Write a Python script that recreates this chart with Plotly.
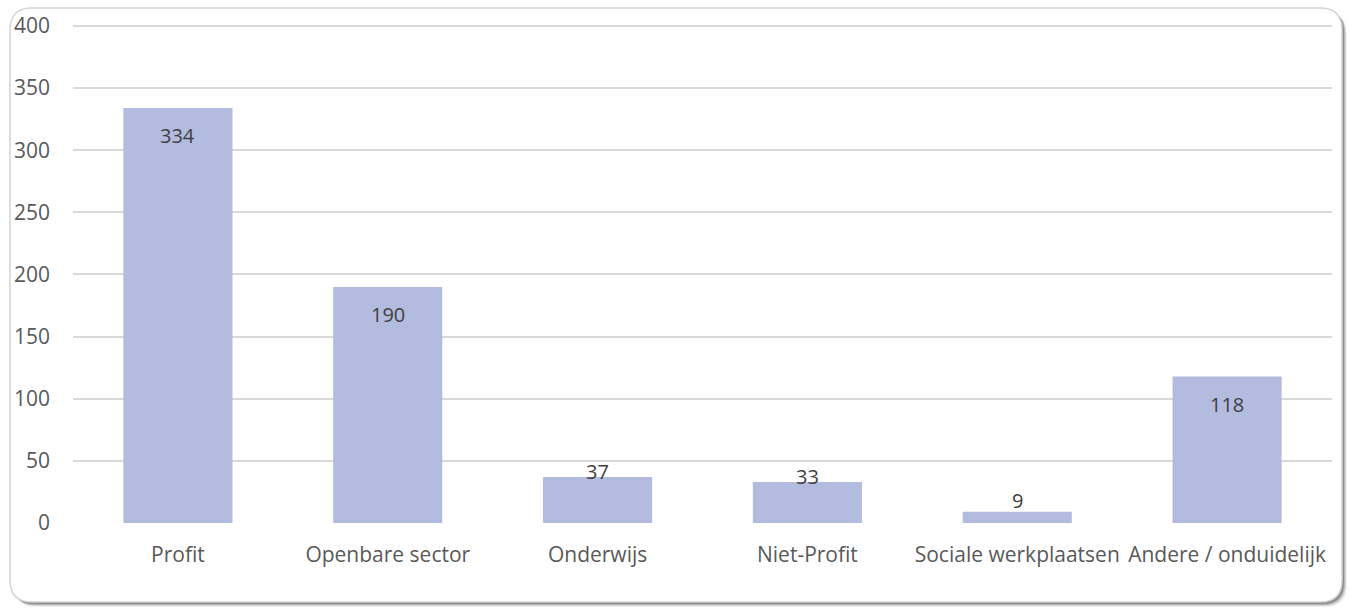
import plotly.graph_objects as go

categories = ["Profit", "Openbare sector", "Onderwijs", "Niet-Profit",
              "Sociale werkplaatsen", "Andere / onduidelijk"]
values = [334, 190, 37, 33, 9, 118]
y_ticks = [0, 50, 100, 150, 200, 250, 300, 350, 400]

W, H = 1351, 608
X_L, X_R, Y_400, Y_B = 73, 1332, 26, 523
Y_MAX = 404  # a little headroom so the 400 gridline is drawn
Y_T = Y_B - (Y_B - Y_400) * Y_MAX / y_ticks[-1]
ML, MR, MT, MB = X_L, W - X_R, Y_T, H - Y_B
PW, PH = X_R - X_L, Y_B - Y_T

def px(X):
    return (X - ML) / PW

def py(Y):
    return (Y_B - Y) / PH

def rrect(x0, y0, x1, y1, r):
    pts = [
        f"M {px(x0 + r)} {py(y0)}",
        f"L {px(x1 - r)} {py(y0)}",
        f"Q {px(x1)} {py(y0)} {px(x1)} {py(y0 + r)}",
        f"L {px(x1)} {py(y1 - r)}",
        f"Q {px(x1)} {py(y1)} {px(x1 - r)} {py(y1)}",
        f"L {px(x0 + r)} {py(y1)}",
        f"Q {px(x0)} {py(y1)} {px(x0)} {py(y1 - r)}",
        f"L {px(x0)} {py(y0 + r)}",
        f"Q {px(x0)} {py(y0)} {px(x0 + r)} {py(y0)}",
        "Z",
    ]
    return " ".join(pts)

fig = go.Figure()
fig.add_trace(go.Bar(
    x=categories, y=values,
    marker=dict(color="#b3bbdf", line=dict(width=0)),
    hoverinfo="skip",
))

shapes = []
for off, col in [(5, "rgba(0,0,0,0.06)"), (4, "rgba(0,0,0,0.10)"),
                 (3, "rgba(0,0,0,0.16)"), (2, "rgba(0,0,0,0.22)")]:
    shapes.append(dict(type="path", xref="paper", yref="paper",
                       path=rrect(10 + off, 8 + off, 1342 + off, 602 + off, 22),
                       fillcolor=col, line=dict(width=0), layer="below"))
shapes.append(dict(type="path", xref="paper", yref="paper",
                   path=rrect(10, 8, 1342, 602, 22),
                   fillcolor="white", line=dict(color="#d4d4d4", width=1.5), layer="below"))

annotations = []
for c, v in zip(categories, values):
    if v >= 100:
        shift = -28
    elif v >= 20:
        shift = 6
    else:
        shift = 11
    annotations.append(dict(x=c, y=v, xref="x", yref="y", text=str(v),
                            showarrow=False, yanchor="middle", yshift=shift,
                            font=dict(family="Open Sans", size=20, color="#404040")))

fig.update_layout(
    width=W, height=H,
    margin=dict(l=ML, r=MR, t=MT, b=MB, pad=0),
    paper_bgcolor="white", plot_bgcolor="rgba(0,0,0,0)",
    bargap=0.48,
    showlegend=False,
    shapes=shapes,
    annotations=annotations,
    font=dict(family="Open Sans", size=20, color="#595959"),
)
fig.update_xaxes(showgrid=False, showline=False, zeroline=False, ticks="",
                 ticklabelstandoff=17, tickfont=dict(size=21, color="#595959"))
fig.update_yaxes(range=[0, Y_MAX], tickvals=y_ticks, showgrid=True, gridcolor="#d9d9d9",
                 gridwidth=1.5, zeroline=False, showline=False, ticks="",
                 ticklabelstandoff=22, tickfont=dict(size=21, color="#595959"))

fig.write_html(
    "out.html",
    config={"displayModeBar": False},
    post_script="document.body.style.margin='0';document.body.style.overflow='hidden';",
)
